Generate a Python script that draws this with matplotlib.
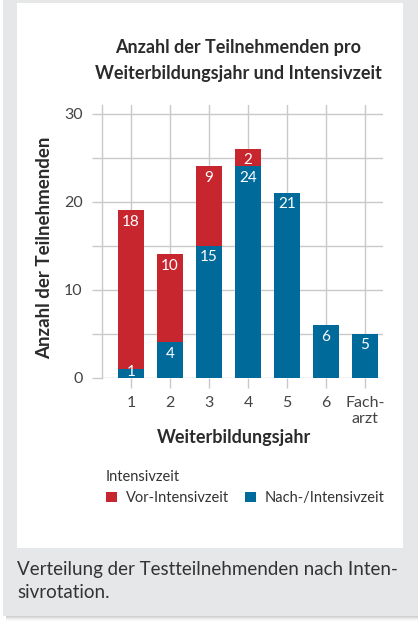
import numpy as np
import matplotlib.pyplot as plt
from matplotlib.patches import Rectangle, Patch
from matplotlib.ticker import MultipleLocator

# Daten
jahre = ['1', '2', '3', '4', '5', '6', 'Fach-\narzt']
nach_intensiv = [1, 4, 15, 24, 21, 6, 5]
vor_intensiv = [18, 10, 9, 2, 0, 0, 0]

rot = '#c8262f'
blau = '#006a9a'
grid_farbe = '#c9c9c9'
text_farbe = '#2b2b2b'

plt.rcParams['font.family'] = ['Lato', 'DejaVu Sans']

W, H = 418, 623
fig = plt.figure(figsize=(W / 100, H / 100), dpi=100)
fig.patch.set_facecolor('white')

def px_rect(x0, y0, x1, y1, **kw):
    # Rechteck in Pixelkoordinaten (y von oben)
    r = Rectangle((x0 / W, 1 - y1 / H), (x1 - x0) / W, (y1 - y0) / H,
                  transform=fig.transFigure, figure=fig, **kw)
    fig.patches.append(r)

# grauer Kasten, Schatten, weisses Feld
px_rect(2.5, 0, W, 616, facecolor='#e6e7e9', edgecolor='none', zorder=-3)
for i, a in enumerate([0.35, 0.25, 0.16, 0.09, 0.04]):
    px_rect(6, 616 + i, W, 617 + i, facecolor='#777777', edgecolor='none', alpha=a, zorder=-3)
px_rect(17, 3, 403, 548, facecolor='white', edgecolor='none', zorder=-2)

# Achsen (0 bei y=377.7 px, 30 bei y=113.5 px)
px_pro_einheit = (377.7 - 113.5) / 30
y_oben = 31
ax_l, ax_r, ax_b = 102, 383, 377.7
ax_t = ax_b - y_oben * px_pro_einheit
ax = fig.add_axes([ax_l / W, 1 - ax_b / H, (ax_r - ax_l) / W, (ax_b - ax_t) / H])
ax.set_facecolor('none')
ax.set_zorder(2)

x = np.arange(len(jahre))
breite = 0.69
ax.bar(x, nach_intensiv, width=breite, color=blau, zorder=3)
ax.bar(x, vor_intensiv, width=breite, bottom=nach_intensiv, color=rot, zorder=3)

# Werte in den Balken (Grundlinie knapp unter der Oberkante)
abstand = 15.7 / px_pro_einheit
minimum = 2 / px_pro_einheit
for xi, n, v in zip(x, nach_intensiv, vor_intensiv):
    ax.text(xi, max(n - abstand, minimum), str(n), ha='center', va='baseline',
            color='white', fontsize=11, zorder=5)
    if v > 0:
        ax.text(xi, max(n + v - abstand, minimum), str(v), ha='center', va='baseline',
                color='white', fontsize=11, zorder=5)

ax.set_xlim(-29 / 39, 6 + 18 / 39)
ax.set_ylim(0, y_oben)
ax.yaxis.set_major_locator(MultipleLocator(10))
ax.yaxis.set_minor_locator(MultipleLocator(5))
ax.set_xticks(x)
ax.set_xticklabels(jahre, linespacing=1.1)

ax.grid(True, which='both', axis='y', color=grid_farbe, lw=1.0, zorder=1)
ax.grid(True, which='major', axis='x', color=grid_farbe, lw=1.0, zorder=1)
for s in ['top', 'right', 'bottom']:
    ax.spines[s].set_visible(False)
ax.spines['left'].set_color(grid_farbe)
ax.spines['left'].set_linewidth(1.0)
ax.tick_params(which='both', length=7, width=1.0, color=grid_farbe,
               labelsize=11.5, labelcolor='#444444')
ax.tick_params(axis='y', pad=7)
ax.tick_params(axis='x', pad=6.5)

# Achsentitel
fig.text(233.5 / W, 1 - 438 / H, 'Weiterbildungsjahr', ha='center', va='center',
         fontsize=13, fontweight='bold', color=text_farbe)
fig.text(45 / W, 1 - 247.5 / H, 'Anzahl der Teilnehmenden', ha='center', va='center',
         rotation=90, fontsize=13.5, fontweight='bold', color=text_farbe)

# Titel
fig.text(238 / W, 1 - 47 / H, 'Anzahl der Teilnehmenden pro', ha='center', va='center',
         fontsize=13, fontweight='bold', color=text_farbe)
fig.text(238 / W, 1 - 74 / H, 'Weiterbildungsjahr und Intensivzeit', ha='center', va='center',
         fontsize=13, fontweight='bold', color=text_farbe)

# Legende
handles = [Patch(facecolor=rot, label='Vor-Intensivzeit'),
           Patch(facecolor=blau, label='Nach-/Intensivzeit')]
leg = fig.legend(handles=handles, title='Intensivzeit', loc='upper left',
                 bbox_to_anchor=(100 / W, 1 - 464 / H), ncol=2, frameon=False,
                 fontsize=10.5, title_fontsize=10.5, alignment='left',
                 handlelength=0.75, handleheight=0.75, handletextpad=0.6,
                 columnspacing=1.1, borderaxespad=0)
for t in leg.get_texts():
    t.set_color('#333333')
leg.get_title().set_color('#333333')

# Bildunterschrift
fig.text(17 / W, 1 - 570 / H, 'Verteilung der Testteilnehmenden nach Inten-', ha='left', va='center',
         fontsize=13.5, color='#333333')
fig.text(17 / W, 1 - 593 / H, 'sivrotation.', ha='left', va='center',
         fontsize=13.5, color='#333333')

fig.savefig('out.png', dpi=100)
